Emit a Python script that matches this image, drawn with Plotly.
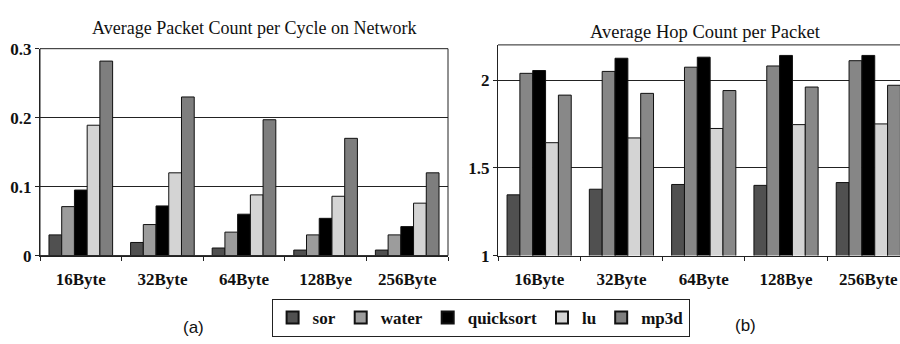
import plotly.graph_objects as go

categories = ["16Byte", "32Byte", "64Byte", "128Bye", "256Byte"]
series = ["sor", "water", "quicksort", "lu", "mp3d"]

# Average packet count per cycle on network
packet_sor = [0.030, 0.019, 0.011, 0.008, 0.008]
packet_water = [0.071, 0.045, 0.034, 0.030, 0.030]
packet_quicksort = [0.095, 0.072, 0.060, 0.054, 0.042]
packet_lu = [0.189, 0.120, 0.088, 0.086, 0.076]
packet_mp3d = [0.282, 0.230, 0.197, 0.170, 0.120]

# Average hop count per packet
hop_sor = [1.346, 1.378, 1.405, 1.400, 1.416]
hop_water = [2.038, 2.049, 2.073, 2.080, 2.110]
hop_quicksort = [2.054, 2.124, 2.130, 2.140, 2.140]
hop_lu = [1.643, 1.670, 1.724, 1.746, 1.750]
hop_mp3d = [1.914, 1.924, 1.940, 1.960, 1.970]

left_colors = ["#505050", "#9c9c9c", "#000000", "#d4d4d4", "#7e7e7e"]
right_colors = ["#505050", "#868686", "#000000", "#d4d4d4", "#888888"]

SERIF = "Liberation Serif"
INK = "#111111"
LINE = "#222222"

fig = go.Figure()

packet_data = [packet_sor, packet_water, packet_quicksort, packet_lu, packet_mp3d]
hop_data = [hop_sor, hop_water, hop_quicksort, hop_lu, hop_mp3d]

for name, vals, col in zip(series, packet_data, left_colors):
    fig.add_trace(go.Bar(
        x=categories, y=vals, name=name, xaxis="x", yaxis="y",
        marker=dict(color=col, line=dict(color=INK, width=1)),
        showlegend=True, legendgroup=name,
    ))

for name, vals, col in zip(series, hop_data, right_colors):
    fig.add_trace(go.Bar(
        x=categories, y=vals, name=name, xaxis="x2", yaxis="y2",
        marker=dict(color=col, line=dict(color=INK, width=1)),
        showlegend=False, legendgroup=name,
    ))


def bold_font(size):
    return dict(family=SERIF, size=size, color=INK, weight="bold")


fig.update_layout(
    width=900, height=344,
    margin=dict(l=0, r=0, t=0, b=0),
    paper_bgcolor="white", plot_bgcolor="white",
    barmode="group", bargap=0.22, bargroupgap=0,
    xaxis=dict(
        domain=[40 / 900, 448 / 900], anchor="y",
        showline=True, linecolor=LINE, linewidth=1,
        ticks="outside", tickson="boundaries", ticklen=4, tickcolor=LINE,
        ticklabelstandoff=8,
        tickfont=bold_font(17), showgrid=False,
    ),
    yaxis=dict(
        domain=[(344 - 261) / 344, (344 - 42) / 344], anchor="x",
        range=[0, 0.3], tickvals=[0, 0.1, 0.2, 0.3], ticktext=["0", "0.1", "0.2", "0.3"],
        showline=True, linecolor=LINE, linewidth=1,
        ticks="outside", ticklen=4, tickcolor=LINE,
        showgrid=True, gridcolor=LINE, gridwidth=1,
        zeroline=False, tickfont=bold_font(17),
    ),
    xaxis2=dict(
        domain=[498 / 900, 1.0], anchor="y2",
        range=[-0.5, 4.385],
        showline=True, linecolor=LINE, linewidth=1,
        ticks="outside", tickson="boundaries", ticklen=4, tickcolor=LINE,
        ticklabelstandoff=8,
        tickfont=bold_font(17), showgrid=False,
    ),
    yaxis2=dict(
        domain=[(344 - 261) / 344, (344 - 38) / 344], anchor="x2",
        range=[1, 2.2], tickvals=[1, 1.5, 2], ticktext=["1", "1.5", "2"],
        showline=True, linecolor=LINE, linewidth=1,
        ticks="outside", ticklen=4, tickcolor=LINE,
        showgrid=True, gridcolor=LINE, gridwidth=1,
        zeroline=False, tickfont=bold_font(17),
    ),
    legend=dict(
        orientation="h", x=0.534, y=(344 - 307) / 344,
        xanchor="center", yanchor="top",
        bordercolor=LINE, borderwidth=1, bgcolor="white",
        font=bold_font(17),
        itemsizing="constant", traceorder="normal",
    ),
    shapes=[
        # frame around the left panel
        dict(type="rect", xref="x domain", yref="y domain", x0=0, x1=1, y0=0, y1=1,
             line=dict(color=LINE, width=1), layer="above"),
        # top edge of the right panel
        dict(type="line", xref="x2 domain", yref="y2 domain", x0=0, x1=1, y0=1, y1=1,
             line=dict(color=LINE, width=1), layer="above"),
    ],
    annotations=[
        dict(text="Average Packet Count per Cycle on Network", xref="paper", yref="paper",
             x=254 / 900, y=(344 - 20) / 344, xanchor="center", yanchor="middle",
             showarrow=False, font=dict(family=SERIF, size=18, color=INK)),
        dict(text="Average Hop Count per Packet", xref="paper", yref="paper",
             x=705 / 900, y=(344 - 24) / 344, xanchor="center", yanchor="middle",
             showarrow=False, font=dict(family=SERIF, size=18.5, color=INK)),
        dict(text="(a)", xref="paper", yref="paper",
             x=193 / 900, y=(344 - 337) / 344, xanchor="center", yanchor="middle",
             showarrow=False, font=dict(family="Liberation Sans", size=17, color=INK)),
        dict(text="(b)", xref="paper", yref="paper",
             x=745 / 900, y=(344 - 335) / 344, xanchor="center", yanchor="middle",
             showarrow=False, font=dict(family="Liberation Sans", size=17, color=INK)),
    ],
)

fig.write_html("out.html")
